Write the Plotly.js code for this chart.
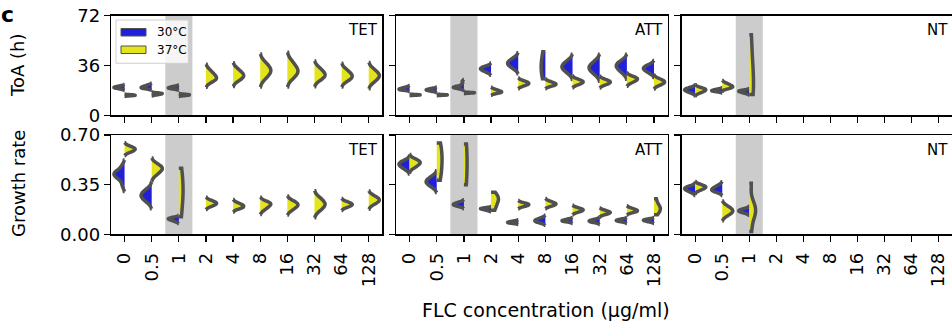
<!DOCTYPE html>
<html><head><meta charset="utf-8">
<script src="https://cdn.plot.ly/plotly-3.0.1.min.js"></script>
<style>html,body{margin:0;padding:0;background:#fff;overflow:hidden}</style>
</head><body><div id="chart" style="width:952px;height:322px"></div>
<script>
// ---------------- DATA ----------------
const categories = ['0','0.5','1','2','4','8','16','32','64','128'];
const drugs = ['TET','ATT','NT'];
const tempLabels = ['30°C','37°C'];
const micIndex = 2; // shaded concentration "1"

// Time of appearance (h), per FLC concentration, 30 °C
const toa_TET_30 = [
  [18.98,19.38,19.65,19.87,20.06,20.24,20.43,20.65,20.92,21.32],
  [19.25,19.50,19.71,19.93,20.16,20.42,20.71,21.04,21.45,22.05],
  [18.94,19.26,19.48,19.66,19.82,19.99,20.19,20.41,20.68,21.07],
  [],[],[],[],[],[],[]
];
// Time of appearance (h), 37 °C
const toa_TET_37 = [
  [14.02,14.18,14.30,14.39,14.46,14.54,14.61,14.70,14.82,14.98],
  [14.59,14.92,15.15,15.33,15.49,15.64,15.77,15.89,16.02,16.21],
  [14.12,14.33,14.48,14.60,14.70,14.80,14.90,15.02,15.17,15.38],
  [24.08,25.14,25.87,26.55,27.27,28.07,28.96,29.99,31.27,33.10],
  [24.66,26.10,27.08,27.88,28.60,29.34,30.20,31.18,32.38,34.14],
  [25.80,28.04,29.58,30.82,31.90,32.90,33.98,35.22,36.76,39.00],
  [26.12,28.21,29.63,30.79,31.83,32.91,34.16,35.58,37.32,39.86],
  [24.90,26.45,27.50,28.36,29.14,29.94,30.86,31.91,33.21,35.09],
  [24.30,25.70,26.70,27.50,28.20,28.90,29.80,30.80,32.00,33.70],
  [23.48,25.25,26.47,27.45,28.30,29.10,29.95,30.93,32.15,33.92]
];
const toa_ATT_30 = [
  [18.19,18.40,18.57,18.75,18.95,19.16,19.41,19.68,20.03,20.53],
  [17.26,17.64,17.91,18.12,18.31,18.48,18.67,18.88,19.15,19.53],
  [19.30,19.70,19.95,20.15,20.30,20.50,20.80,21.30,22.50,24.50],
  [30.87,31.77,32.39,32.89,33.33,33.71,34.08,34.49,34.99,35.73],
  [33.40,34.82,35.81,36.59,37.28,37.92,38.61,39.39,40.38,41.80],
  [26.50,34.00,37.00,46.00],
  [30.04,31.74,32.92,33.85,34.67,35.44,36.26,37.19,38.37,40.07],
  [28.99,30.83,32.09,33.10,33.98,34.81,35.69,36.70,37.96,39.80],
  [30.10,31.94,33.19,34.21,35.11,35.89,36.64,37.47,38.50,40.00],
  [30.10,31.34,32.19,32.88,33.49,34.01,34.52,35.09,35.78,36.79]
];
const toa_ATT_37 = [
  [14.42,14.53,14.61,14.67,14.73,14.78,14.83,14.89,14.97,15.08],
  [14.40,14.51,14.59,14.65,14.71,14.76,14.81,14.87,14.95,15.06],
  [15.94,16.06,16.14,16.21,16.27,16.32,16.38,16.45,16.53,16.65],
  [15.83,16.20,16.46,16.69,16.94,17.22,17.53,17.88,18.32,18.96],
  [20.94,21.67,22.18,22.58,22.94,23.26,23.62,24.02,24.53,25.26],
  [20.82,21.40,21.80,22.13,22.42,22.72,23.07,23.47,23.96,24.67],
  [21.76,22.55,23.10,23.54,23.92,24.28,24.66,25.10,25.65,26.44],
  [21.66,22.45,23.00,23.44,23.82,24.18,24.56,25.00,25.55,26.34],
  [23.21,24.19,24.86,25.40,25.88,26.29,26.69,27.14,27.69,28.49],
  [21.32,22.25,22.88,23.40,23.84,24.26,24.70,25.22,25.85,26.78]
];
const toa_NT_30 = [
  [15.97,16.76,17.30,17.74,18.12,18.46,18.78,19.14,19.59,20.23],
  [16.94,17.26,17.48,17.66,17.82,17.99,18.19,18.41,18.68,19.07],
  [15.73,16.25,16.61,16.90,17.15,17.38,17.58,17.77,17.98,18.28],
  [],[],[],[],[],[],[]
];
const toa_NT_37 = [
  [15.90,16.70,17.25,17.70,18.10,18.45,18.80,19.15,19.60,20.25],
  [19.23,19.73,20.07,20.39,20.73,21.10,21.52,22.00,22.59,23.45],
  [15.10,19.00,34.00,58.30],
  [],[],[],[],[],[],[]
];

// Growth rate, 30 °C
const gr_TET_30 = [
  [0.343,0.381,0.399,0.410,0.419,0.426,0.432,0.441,0.454,0.483],
  [0.222,0.240,0.252,0.261,0.270,0.277,0.286,0.295,0.307,0.325],
  [0.089,0.095,0.100,0.103,0.106,0.109,0.111,0.114,0.116,0.120],
  [],[],[],[],[],[],[]
];
// Growth rate, 37 °C
const gr_TET_37 = [
  [0.575,0.584,0.589,0.594,0.598,0.602,0.606,0.611,0.616,0.625],
  [0.413,0.429,0.441,0.450,0.458,0.464,0.471,0.479,0.488,0.501],
  [0.123,0.280,0.330,0.466],
  [0.194,0.202,0.208,0.212,0.216,0.220,0.224,0.228,0.234,0.242],
  [0.177,0.184,0.189,0.193,0.197,0.201,0.205,0.210,0.216,0.225],
  [0.168,0.182,0.191,0.198,0.205,0.211,0.216,0.221,0.226,0.234],
  [0.166,0.180,0.189,0.197,0.203,0.209,0.215,0.221,0.229,0.240],
  [0.160,0.178,0.190,0.200,0.208,0.216,0.225,0.235,0.247,0.265],
  [0.187,0.195,0.200,0.204,0.208,0.212,0.216,0.220,0.225,0.233],
  [0.206,0.218,0.227,0.233,0.239,0.244,0.250,0.257,0.265,0.277]
];
const gr_ATT_30 = [
  [0.454,0.467,0.476,0.483,0.489,0.494,0.500,0.506,0.513,0.523],
  [0.329,0.343,0.353,0.361,0.368,0.374,0.381,0.389,0.399,0.413],
  [0.195,0.200,0.204,0.207,0.210,0.212,0.215,0.219,0.223,0.230],
  [0.167,0.171,0.174,0.177,0.179,0.180,0.182,0.183,0.185,0.187],
  [0.076,0.079,0.081,0.082,0.084,0.085,0.087,0.089,0.091,0.095],
  [0.079,0.085,0.089,0.092,0.095,0.098,0.102,0.106,0.111,0.118],
  [0.086,0.090,0.092,0.094,0.096,0.097,0.099,0.102,0.105,0.109],
  [0.081,0.086,0.088,0.091,0.093,0.095,0.097,0.100,0.104,0.109],
  [0.086,0.090,0.093,0.095,0.097,0.098,0.100,0.103,0.105,0.109],
  [0.086,0.090,0.093,0.096,0.098,0.100,0.101,0.103,0.106,0.109]
];
const gr_ATT_37 = [
  [0.466,0.478,0.487,0.494,0.500,0.506,0.511,0.517,0.524,0.534],
  [0.381,0.450,0.520,0.580,0.643],
  [0.350,0.500,0.636],
  [0.169,0.190,0.225,0.245,0.255,0.265,0.297],
  [0.193,0.199,0.202,0.205,0.208,0.210,0.213,0.216,0.219,0.225],
  [0.196,0.202,0.206,0.210,0.213,0.216,0.219,0.223,0.228,0.236],
  [0.153,0.159,0.164,0.167,0.170,0.173,0.176,0.179,0.184,0.190],
  [0.137,0.143,0.147,0.150,0.153,0.155,0.158,0.162,0.166,0.172],
  [0.151,0.156,0.160,0.163,0.166,0.168,0.171,0.175,0.180,0.186],
  [0.137,0.165,0.178,0.188,0.210,0.251]
];
const gr_NT_30 = [
  [0.294,0.303,0.309,0.314,0.318,0.322,0.326,0.330,0.335,0.342],
  [0.296,0.302,0.307,0.311,0.315,0.319,0.325,0.331,0.338,0.349],
  [0.148,0.154,0.158,0.161,0.164,0.167,0.170,0.173,0.177,0.183],
  [],[],[],[],[],[],[]
];
const gr_NT_37 = [
  [0.307,0.316,0.321,0.326,0.330,0.334,0.337,0.341,0.346,0.353],
  [0.127,0.140,0.149,0.156,0.162,0.168,0.175,0.182,0.191,0.204],
  [0.020,0.120,0.160,0.180,0.220,0.360],
  [],[],[],[],[],[],[]
];

// ---------------- STYLE ----------------
const BLUE = '#2020dc', YELLOW = '#e4e41c', EDGE = '#505050', BAND = '#cccccc';
const FONT = 'DejaVu Sans';
const W = 952, H = 322;
const px = v => v / W, py = v => 1 - v / H;
const FULL_WIDTH = 0.78;   // violin width (category units) for the largest sample
const SOFT_MIN_N = 8;      // small samples are cut at their data range

const xDomains = [[111/W, 382.3/W], [396/W, 667.6/W], [681.7/W, 1]];
const yDomains = [[1 - 115.3/H, 1 - 15.7/H], [1 - 234.3/H, 1 - 135/H]];

const rows = [
  [[toa_TET_30, toa_TET_37], [toa_ATT_30, toa_ATT_37], [toa_NT_30, toa_NT_37]],
  [[gr_TET_30, gr_TET_37], [gr_ATT_30, gr_ATT_37], [gr_NT_30, gr_NT_37]]
];

let nMax = 0;
rows.forEach(r => r.forEach(s => s.forEach(arr => arr.forEach(v => { nMax = Math.max(nMax, v.length); }))));

const traces = [];
rows.forEach((r, ri) => {
  r.forEach((pair, ci) => {
    const k = ri * 3 + ci + 1;
    const xa = 'x' + (k === 1 ? '' : k), ya = 'y' + (k === 1 ? '' : k);
    pair.forEach((arr, ti) => {
      arr.forEach((vals, i) => {
        if (!vals.length) return;
        traces.push({
          type: 'violin', xaxis: xa, yaxis: ya,
          x: vals.map(() => categories[i]), y: vals,
          name: tempLabels[ti],
          side: ti === 0 ? 'negative' : 'positive',
          width: FULL_WIDTH * vals.length / nMax,
          scalemode: 'width', scalegroup: drugs[ci] + ri + ti + '_' + i,
          spanmode: vals.length >= SOFT_MIN_N ? 'soft' : 'hard',
          fillcolor: ti === 0 ? BLUE : YELLOW,
          line: {color: EDGE, width: 3.5},
          points: false, box: {visible: false}, meanline: {visible: false},
          showlegend: false, hoverinfo: 'skip'
        });
      });
    });
  });
});

const layout = {
  width: W, height: H, margin: {l: 0, r: 0, t: 0, b: 0},
  paper_bgcolor: '#fff', plot_bgcolor: 'rgba(0,0,0,0)',
  violinmode: 'overlay', showlegend: false,
  font: {family: FONT, color: '#000'},
  shapes: [], annotations: []
};

for (let ri = 0; ri < 2; ri++) {
  for (let ci = 0; ci < 3; ci++) {
    const k = ri * 3 + ci + 1;
    const sfx = k === 1 ? '' : k;
    layout['xaxis' + sfx] = {
      domain: xDomains[ci], anchor: 'y' + sfx, type: 'category',
      categoryorder: 'array', categoryarray: categories, range: [-0.5, 9.5],
      showline: true, mirror: true, linecolor: '#000', linewidth: 1.3,
      ticks: 'outside', ticklen: 6, tickwidth: 1.2, tickcolor: '#000',
      showgrid: false, zeroline: false, automargin: false, fixedrange: true,
      showticklabels: ri === 1, tickangle: -90, ticklabelstandoff: 4,
      tickfont: {family: FONT, size: 18, color: '#000'}
    };
    layout['yaxis' + sfx] = {
      domain: yDomains[ri], anchor: 'x' + sfx,
      range: ri === 0 ? [0, 72] : [0, 0.70],
      tickvals: ri === 0 ? [0, 36, 72] : [0, 0.35, 0.70],
      tickformat: ri === 0 ? 'd' : '.2f',
      showline: true, mirror: ci < 2, linecolor: '#000', linewidth: 1.3,
      ticks: 'outside', ticklen: 6, tickwidth: 1.2, tickcolor: '#000',
      showgrid: false, zeroline: false, automargin: false, fixedrange: true,
      showticklabels: ci === 0,
      tickfont: {family: FONT, size: 18, color: '#000'}
    };
    layout.shapes.push({
      type: 'rect', xref: 'x' + sfx, yref: 'y' + sfx + ' domain',
      x0: micIndex - 0.5, x1: micIndex + 0.5, y0: 0, y1: 1,
      fillcolor: BAND, line: {width: 0}, layer: 'below'
    });
    const rightPx = [379.5, 665.3, 950.3][ci];
    layout.annotations.push({
      text: drugs[ci], xref: 'paper', yref: 'paper',
      x: px(rightPx), y: py(ri === 0 ? 30 : 150), xanchor: 'right', yanchor: 'middle',
      showarrow: false, font: {family: FONT, size: 15, color: '#000'}
    });
  }
}

layout.annotations.push(
  {text: 'ToA (h)', xref: 'paper', yref: 'paper', x: px(17.5), y: py(65.5), textangle: -90,
   xanchor: 'center', yanchor: 'middle', showarrow: false, font: {family: FONT, size: 18}},
  {text: 'Growth rate', xref: 'paper', yref: 'paper', x: px(18), y: py(184), textangle: -90,
   xanchor: 'center', yanchor: 'middle', showarrow: false, font: {family: FONT, size: 18}},
  {text: 'FLC concentration (μg/ml)', xref: 'paper', yref: 'paper', x: px(546), y: py(310),
   xanchor: 'center', yanchor: 'middle', showarrow: false, font: {family: FONT, size: 19}},
  {text: '<b>c</b>', xref: 'paper', yref: 'paper', x: px(7.5), y: 1,
   xanchor: 'center', yanchor: 'top', showarrow: false, font: {family: FONT, size: 22}}
);

layout.shapes.push(
  {type: 'rect', xref: 'paper', yref: 'paper', x0: px(116), x1: px(188.3), y0: py(63.3), y1: py(20),
   fillcolor: 'rgba(255,255,255,0.8)', line: {color: '#d0d0d0', width: 1}, layer: 'above'},
  {type: 'rect', xref: 'paper', yref: 'paper', x0: px(121), x1: px(146), y0: py(36), y1: py(28.5),
   fillcolor: BLUE, line: {color: EDGE, width: 1}, layer: 'above'},
  {type: 'rect', xref: 'paper', yref: 'paper', x0: px(121), x1: px(146), y0: py(53.5), y1: py(46),
   fillcolor: YELLOW, line: {color: EDGE, width: 1}, layer: 'above'}
);
tempLabels.forEach((t, i) => layout.annotations.push({
  text: t, xref: 'paper', yref: 'paper', x: px(155), y: py(i === 0 ? 32.3 : 49.7),
  xanchor: 'left', yanchor: 'middle', showarrow: false, font: {family: FONT, size: 12, color: '#000'}
}));

Plotly.newPlot('chart', traces, layout, {staticPlot: true, displayModeBar: false});
</script></body></html>
